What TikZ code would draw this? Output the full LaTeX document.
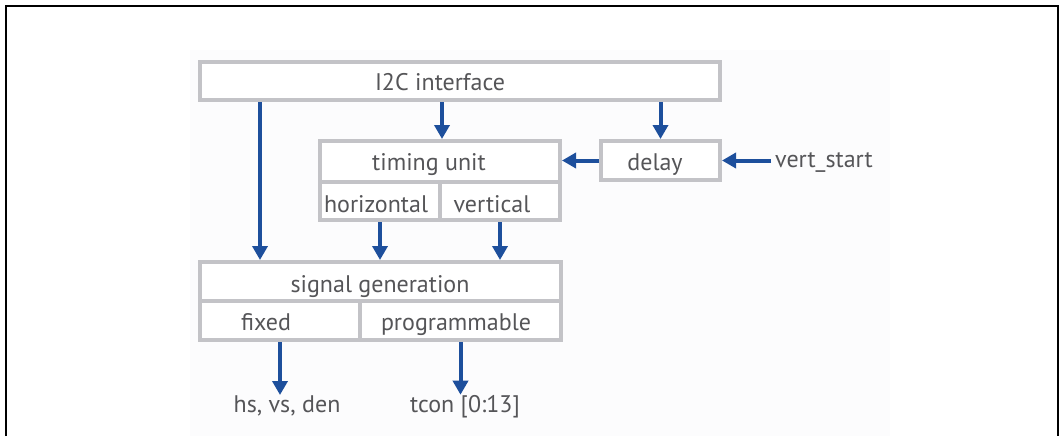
\documentclass[tikz,border=0pt]{standalone}
\usepackage{fontspec}
\setmainfont{PT Sans}
\usetikzlibrary{arrows.meta}
\definecolor{boxgray}{HTML}{C3C3C7}
\definecolor{arrowblue}{HTML}{1D4F9C}
\definecolor{txtgray}{HTML}{555558}
\definecolor{bgfill}{HTML}{FCFCFD}
\begin{document}
\begin{tikzpicture}[x=1pt,y=-1pt,
  cell/.style={draw=boxgray,line width=4pt,fill=white,inner sep=0pt,outer sep=2pt},
  lbl/.style={text=txtgray,font=\fontsize{24}{28}\selectfont,anchor=base,inner sep=0pt},
  sig/.style={draw=arrowblue,line width=4pt,-{Triangle[width=15pt,length=14pt]}},
]
\useasboundingbox (0,0) rectangle (1064,436);
\fill[bgfill] (190,50) rectangle (890,436);
\draw[black,line width=2.5pt] (6,436) -- (6,6) -- (1058,6) -- (1058,436);

% boxes
\node[cell,minimum width=520pt,minimum height=38pt] (i2c) at (460,81) {};
\node[cell,minimum width=240pt,minimum height=41pt] (tu) at (440,161.5) {};
\node[cell,minimum width=120pt,minimum height=38pt] (hor) at (380,201) {};
\node[cell,minimum width=120pt,minimum height=38pt] (ver) at (500,201) {};
\node[cell,minimum width=119pt,minimum height=39pt] (delay) at (660.5,160.5) {};
\node[cell,minimum width=361pt,minimum height=39pt] (sg) at (380.5,281.5) {};
\node[cell,minimum width=160pt,minimum height=39pt] (fix) at (280,320.5) {};
\node[cell,minimum width=201pt,minimum height=39pt] (prog) at (460.5,320.5) {};

% labels
\node[lbl] (li2c) at (440,90) {I2C interface};
\node[lbl] (ltu) at (429,170) {timing unit};
\node[lbl] (lhor) at (376,212) {horizontal};
\node[lbl] (lver) at (492,212) {vertical};
\node[lbl] (ldelay) at (655,170) {delay};
\node[lbl,anchor=base west] (vs) at (775,167) {vert\_start};
\node[lbl] (lsg) at (380,292) {signal generation};
\node[lbl] (lfix) at (266,330) {fixed};
\node[lbl] (lprog) at (456,330) {programmable};
\node[lbl] (hs) at (287,412) {hs, vs, den};
\node[lbl] (tcon) at (465,412) {tcon [0:13]};

% connectors
\coordinate (xA) at (260,0);
\coordinate (xB) at (442,0);
\coordinate (vsin) at (771,0);
\draw[sig] (i2c.south -| xA) -- (sg.north -| xA);
\draw[sig] (i2c.south -| xB) -- (tu.north -| xB);
\draw[sig] (i2c.south -| delay.north) -- (delay.north);
\draw[sig] (delay.west) -- (tu.east |- delay.west);
\draw[sig] (vsin |- delay.east) -- (delay.east);
\draw[sig] (hor.south) -- (sg.north -| hor.south);
\draw[sig] (ver.south) -- (sg.north -| ver.south);
\draw[sig] (fix.south) -- (hs.north -| fix.south);
\draw[sig] (prog.south) -- (tcon.north -| prog.south);
\end{tikzpicture}
\end{document}
